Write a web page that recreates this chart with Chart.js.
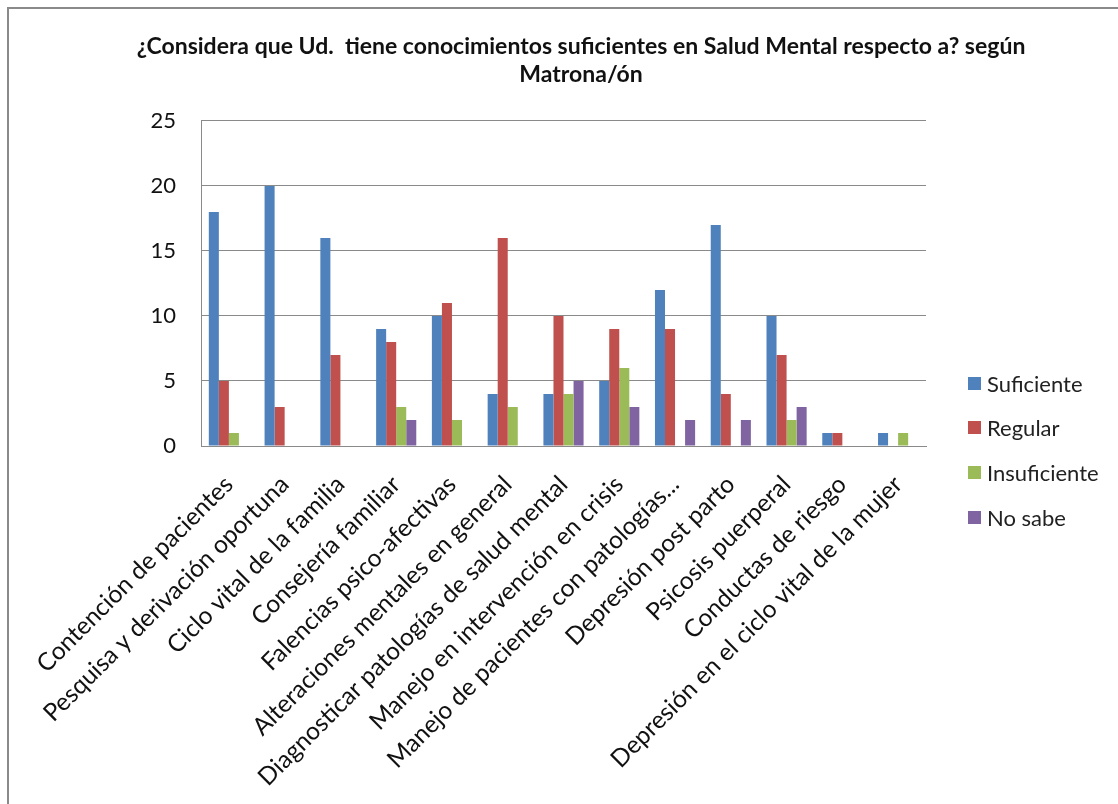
<!DOCTYPE html>
<html lang="es">
<head>
    <meta charset="UTF-8">
    <title>Conocimientos en Salud Mental - Matrona/ón</title>
    <script src="https://cdn.jsdelivr.net/npm/chart.js"></script>
    <style>
        body {
            margin: 0;
            background-color: #ffffff;
            font-family: Lato, sans-serif;
        }

        .frame {
            position: absolute;
            left: 7px;
            top: 7px;
            width: 1120px;
            height: 820px;
            border-top: 2px solid #8a8a8a;
            border-left: 2px solid #8a8a8a;
        }

        .chart-box {
            position: absolute;
            left: 0;
            top: 0;
            width: 1118px;
            height: 804px;
        }

        .legend {
            position: absolute;
            left: 968px;
            top: 370px;
            list-style: none;
            margin: 0;
            padding: 0;
        }

        .legend li {
            display: flex;
            align-items: center;
            height: 26px;
            margin-bottom: 18.7px;
            font-size: 22px;
            color: #222;
        }

        .legend span.box {
            width: 13px;
            height: 13px;
            margin-right: 6px;
        }
    </style>
</head>
<body>
    <div class="frame"></div>
    <div class="chart-box">
        <canvas id="saludChart" width="1118" height="804"></canvas>
    </div>
    <ul class="legend" id="legend"></ul>

    <script>
        const categories = [
            'Contención de pacientes',
            'Pesquisa y derivación oportuna',
            'Ciclo vital de la familia',
            'Consejería familiar',
            'Falencias psico-afectivas',
            'Alteraciones mentales en general',
            'Diagnosticar patologías de salud mental',
            'Manejo en intervención en crisis',
            'Manejo de pacientes con patologías...',
            'Depresión post parto',
            'Psicosis puerperal',
            'Conductas de riesgo',
            'Depresión en el ciclo vital de la mujer'
        ];

        const suficiente   = [18, 20, 16, 9, 10, 4, 4, 5, 12, 17, 10, 1, 1];
        const regular      = [5, 3, 7, 8, 11, 16, 10, 9, 9, 4, 7, 1, 0];
        const insuficiente = [1, 0, 0, 3, 2, 3, 4, 6, 0, 0, 2, 0, 1];
        const noSabe       = [0, 0, 0, 2, 0, 0, 5, 3, 2, 2, 3, 0, 0];

        const seriesNames  = ['Suficiente', 'Regular', 'Insuficiente', 'No sabe'];
        const seriesColors = ['#4f81bd', '#c0504d', '#9bbb59', '#8064a2'];
        const yTicks = [0, 5, 10, 15, 20, 25];

        const seriesData = [suficiente, regular, insuficiente, noSabe];

        // legend as html, built from the series arrays
        const legendEl = document.getElementById('legend');
        seriesNames.forEach(function (name, i) {
            const li = document.createElement('li');
            li.innerHTML = '<span class="box" style="background:' + seriesColors[i] + '"></span>' + name;
            legendEl.appendChild(li);
        });

        const ctx = document.getElementById('saludChart').getContext('2d');
        new Chart(ctx, {
            type: 'bar',
            data: {
                labels: categories,
                datasets: seriesData.map(function (values, i) {
                    return {
                        label: seriesNames[i],
                        data: values,
                        backgroundColor: seriesColors[i],
                        borderWidth: 0,
                        categoryPercentage: 0.72,
                        barPercentage: 1.0
                    };
                })
            },
            options: {
                responsive: false,
                animation: false,
                layout: {
                    padding: { left: 44, right: 0, top: 0, bottom: 0 }
                },
                plugins: {
                    legend: { display: false },
                    tooltip: { enabled: false },
                    title: {
                        display: true,
                        text: [
                            '¿Considera que Ud.  tiene conocimientos suficientes en Salud Mental respecto a? según',
                            'Matrona/ón'
                        ],
                        color: '#111',
                        font: { family: 'Lato', size: 23, weight: 'bold', lineHeight: 1.217 },
                        padding: { top: 33, bottom: 32 }
                    }
                },
                scales: {
                    x: {
                        grid: { display: false, drawTicks: false },
                        border: { display: true, color: '#8a8a8a', width: 1 },
                        ticks: {
                            color: '#111',
                            font: { family: 'Lato', size: 24.5 },
                            minRotation: 45,
                            maxRotation: 45,
                            autoSkip: false,
                            padding: 24
                        },
                        afterFit: function (scale) {
                            scale.height = 804 - 446;
                        }
                    },
                    y: {
                        min: 0,
                        max: 25,
                        afterBuildTicks: function (scale) {
                            scale.ticks = yTicks.map(function (v) { return { value: v }; });
                        },
                        grid: { color: '#8a8a8a', lineWidth: 1, drawTicks: false },
                        border: { display: true, color: '#8a8a8a', width: 1 },
                        ticks: {
                            color: '#111',
                            font: { family: 'Lato', size: 22 },
                            padding: 25
                        },
                        afterFit: function (scale) {
                            scale.width = 201 - 44;
                        }
                    },
                    // empty right axis that only reserves room for the html legend
                    legendSpace: {
                        position: 'right',
                        min: 0,
                        max: 25,
                        grid: { display: false, drawTicks: false },
                        border: { display: false },
                        ticks: { display: false },
                        afterFit: function (scale) {
                            scale.width = 1118 - 926;
                        }
                    }
                }
            }
        });
    </script>
</body>
</html>
